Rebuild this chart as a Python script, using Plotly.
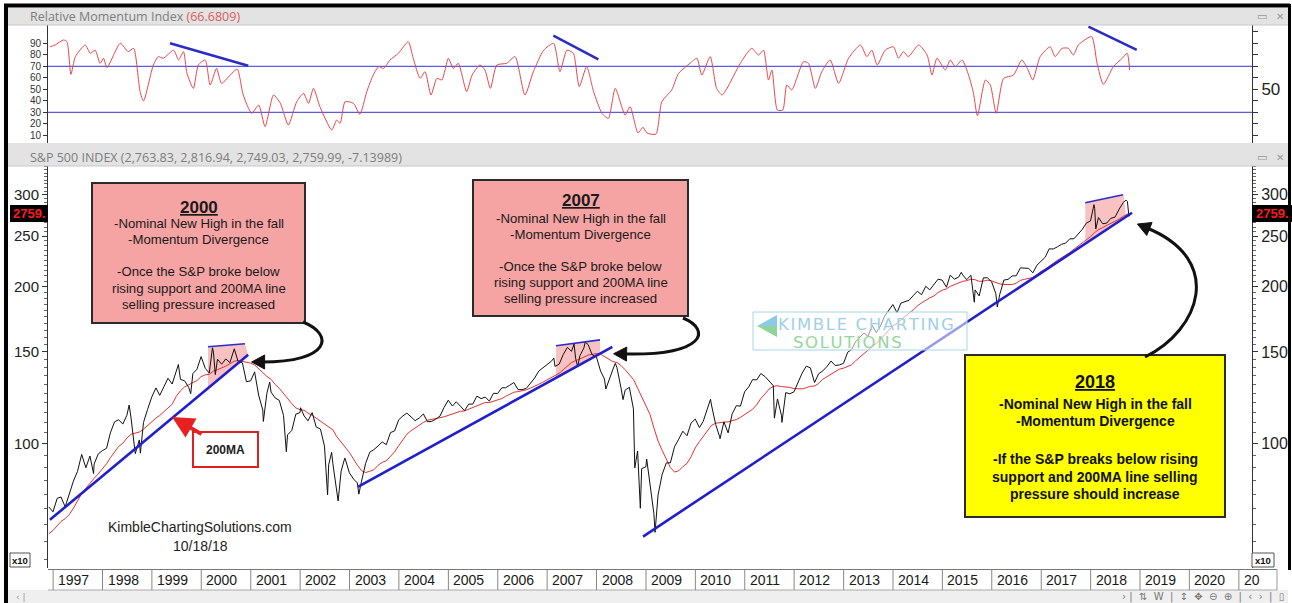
import numpy as np
import pandas as pd
import plotly.graph_objects as go

W, H = 1292, 603
ARIAL = "Liberation Sans, Arial, sans-serif"

# ------------------------------------------------------------------ data
sp500_first_month = "1996-01"
sp500_monthly_close = [
    636.0, 640.4, 645.5, 654.2, 669.1, 670.6, 639.9, 652.0, 687.3, 705.3, 757.0, 740.7,
    786.2, 790.8, 757.1, 801.3, 848.3, 885.1, 954.3, 899.5, 947.3, 914.6, 955.4, 970.4,
    980.3, 1049.3, 1101.8, 1111.8, 1090.8, 1133.8, 1120.7, 957.3, 1017.0, 1098.7, 1163.6, 1229.2,
    1279.6, 1238.3, 1286.4, 1335.2, 1301.8, 1372.7, 1328.7, 1320.4, 1282.7, 1362.9, 1388.9, 1469.3,
    1394.5, 1366.4, 1498.6, 1452.4, 1420.6, 1454.6, 1430.8, 1517.7, 1436.5, 1429.4, 1315.0, 1320.3,
    1366.0, 1239.9, 1160.3, 1249.5, 1255.8, 1224.4, 1211.2, 1133.6, 1040.9, 1059.8, 1139.5, 1148.1,
    1130.2, 1106.7, 1147.4, 1076.9, 1067.1, 989.8, 911.6, 916.1, 815.3, 885.8, 936.3, 879.8,
    855.7, 841.2, 848.2, 916.9, 963.6, 974.5, 990.3, 1008.0, 996.0, 1050.7, 1058.2, 1111.9,
    1131.1, 1144.9, 1126.2, 1107.3, 1120.7, 1140.8, 1101.7, 1104.2, 1114.6, 1130.2, 1173.8, 1211.9,
    1181.3, 1203.6, 1180.6, 1156.9, 1191.5, 1191.3, 1234.2, 1220.3, 1228.8, 1207.0, 1249.5, 1248.3,
    1280.1, 1280.7, 1294.8, 1310.6, 1270.1, 1270.2, 1276.7, 1303.8, 1335.9, 1377.9, 1400.6, 1418.3,
    1438.2, 1406.8, 1420.9, 1482.4, 1530.6, 1503.4, 1455.3, 1474.0, 1526.8, 1549.4, 1481.1, 1468.4,
    1378.6, 1330.6, 1322.7, 1385.6, 1400.4, 1280.0, 1267.4, 1282.8, 1166.4, 968.8, 896.2, 903.3,
    825.9, 735.1, 797.9, 872.8, 919.1, 919.3, 987.5, 1020.6, 1057.1, 1036.2, 1095.6, 1115.1,
    1073.9, 1104.5, 1169.4, 1186.7, 1089.4, 1030.7, 1101.6, 1049.3, 1141.2, 1183.3, 1180.6, 1257.6,
    1286.1, 1327.2, 1325.8, 1363.6, 1345.2, 1320.6, 1292.3, 1218.9, 1131.4, 1253.3, 1247.0, 1257.6,
    1312.4, 1365.7, 1408.5, 1397.9, 1310.3, 1362.2, 1379.3, 1406.6, 1440.7, 1412.2, 1416.2, 1426.2,
    1498.1, 1514.7, 1569.2, 1597.6, 1630.7, 1606.3, 1685.7, 1633.0, 1681.6, 1756.5, 1805.8, 1848.4,
    1782.6, 1859.5, 1872.3, 1884.0, 1923.6, 1960.2, 1930.7, 2003.4, 1972.3, 2018.1, 2067.6, 2058.9,
    1995.0, 2104.5, 2067.9, 2085.5, 2107.4, 2063.1, 2103.8, 1972.2, 1920.0, 2079.4, 2080.4, 2043.9,
    1940.2, 1932.2, 2059.7, 2065.3, 2097.0, 2098.9, 2173.6, 2171.0, 2168.3, 2126.2, 2198.8, 2238.8,
    2278.9, 2363.6, 2362.7, 2384.2, 2411.8, 2423.4, 2470.3, 2471.7, 2519.4, 2575.3, 2647.6, 2673.6,
    2823.8, 2713.8, 2640.9, 2648.1, 2705.3, 2718.4, 2816.3, 2901.5, 2914.0,
]
sp500_last_date = "2018-10-18"
sp500_last_close = 2759.99

sp500_swing_dates = [
    "1997-10-27", "1998-07-17", "1998-10-08", "1999-07-16", "1999-10-15", "2000-03-24",
    "2000-04-14", "2000-09-01", "2001-01-30", "2001-04-04", "2001-05-21", "2001-09-21",
    "2002-01-04", "2002-07-23", "2002-08-22", "2002-10-09", "2002-11-27", "2003-03-11",
    "2007-02-20", "2007-07-19", "2007-08-15", "2007-10-09", "2008-03-10", "2008-05-19",
    "2008-07-15", "2008-10-10", "2008-11-20", "2009-01-06", "2009-03-09", "2010-04-23",
    "2010-07-02", "2011-08-08", "2011-10-03", "2015-05-21", "2015-08-25", "2016-02-11",
    "2018-01-26", "2018-02-08", "2018-09-20", "2018-10-11",
]
sp500_swing_closes = [
    877.0, 1186.8, 959.4, 1418.8, 1247.4, 1527.5,
    1356.6, 1520.8, 1373.7, 1103.3, 1312.8, 965.8,
    1172.5, 797.7, 962.7, 776.8, 938.9, 800.7,
    1459.7, 1553.1, 1406.7, 1565.2, 1273.4, 1426.6,
    1214.9, 899.2, 752.4, 934.7, 676.5, 1217.3,
    1022.6, 1119.5, 1099.2, 2130.8, 1867.6, 1829.1,
    2872.9, 2581.0, 2930.8, 2728.4,
]

ma_window_months = 10  # ~200 trading days

rmi_decimal_year = [
    1996.94, 1997.04, 1997.21, 1997.28, 1997.36, 1997.45, 1997.65, 1997.75, 1997.85, 1997.95,
    1998.02, 1998.09, 1998.36, 1998.52, 1998.63, 1998.76, 1998.83, 1999.03, 1999.13, 1999.23,
    1999.44, 1999.54, 1999.64, 1999.71, 1999.84, 1999.94, 2000.08, 2000.18, 2000.31, 2000.41,
    2000.62, 2000.73, 2000.85, 2001.02, 2001.16, 2001.29, 2001.46, 2001.60, 2001.76, 2001.93,
    2002.07, 2002.17, 2002.27, 2002.40, 2002.64, 2002.74, 2002.81, 2002.91,
    2003.08, 2003.21, 2003.35, 2003.48, 2003.59, 2003.69, 2003.82, 2003.99, 2004.19, 2004.29,
    2004.43, 2004.53, 2004.65, 2004.77, 2004.87, 2005.00, 2005.10, 2005.20, 2005.37, 2005.48,
    2005.64, 2005.74, 2005.85, 2005.98, 2006.18, 2006.35, 2006.55, 2006.72, 2006.93, 2007.13,
    2007.26, 2007.40, 2007.53, 2007.65, 2007.80, 2007.94, 2008.11, 2008.24, 2008.38, 2008.58,
    2008.68, 2008.84, 2008.94, 2009.02, 2009.20, 2009.32,
    2009.52, 2009.66, 2009.89, 2010.03, 2010.13, 2010.30, 2010.43, 2010.54, 2010.64, 2010.91,
    2011.14, 2011.28, 2011.38, 2011.48, 2011.55, 2011.66, 2011.77, 2011.85, 2011.95, 2012.19,
    2012.29, 2012.43, 2012.56, 2012.73, 2012.90, 2013.10, 2013.34, 2013.47, 2013.57, 2013.68,
    2013.84, 2014.01, 2014.11, 2014.21, 2014.31, 2014.52, 2014.69, 2014.79, 2014.89, 2015.06,
    2015.16, 2015.26, 2015.40, 2015.53, 2015.63, 2015.71, 2015.87, 2015.97, 2016.09, 2016.24,
    2016.44, 2016.61, 2016.72, 2016.83, 2016.98, 2017.18, 2017.28, 2017.42, 2017.55, 2017.65,
    2017.75, 2018.02, 2018.13, 2018.26, 2018.46, 2018.64, 2018.74, 2018.79,
]
rmi_value = [
    87.0, 88.5, 92.9, 91.4, 63.0, 78.4, 88.5, 81.3, 84.0, 72.6,
    77.0, 68.8, 90.0, 82.7, 85.6, 48.0, 39.8, 71.1, 78.4, 77.0,
    84.0, 75.5, 82.7, 63.9, 50.8, 71.1, 75.5, 53.7, 68.2, 55.2,
    63.9, 67.6, 45.0, 29.1, 36.3, 17.5, 45.0, 37.8, 19.0, 39.2,
    46.5, 37.8, 50.8, 34.9, 14.6, 23.3, 20.4, 39.2,
    37.8, 28.2, 48.0, 62.4, 69.7, 68.2, 75.5, 81.3, 91.4, 77.0,
    59.5, 65.3, 45.0, 59.5, 58.1, 77.0, 68.2, 72.6, 48.0, 62.4,
    71.1, 66.8, 50.8, 71.1, 72.6, 78.4, 45.0, 65.3, 84.0, 90.0,
    65.3, 84.0, 81.3, 52.3, 69.7, 48.0, 29.1, 24.7, 50.8, 27.6,
    34.9, 12.0, 17.0, 12.0, 11.0, 39.2,
    49.4, 63.9, 72.6, 77.0, 62.4, 78.4, 50.8, 45.0, 50.8, 72.6,
    85.6, 79.8, 84.0, 58.1, 66.8, 32.0, 32.0, 53.7, 49.4, 74.0,
    72.6, 50.8, 65.3, 75.5, 55.2, 77.0, 88.5, 78.4, 84.0, 71.1,
    84.0, 87.0, 77.0, 82.7, 78.4, 88.5, 79.8, 62.4, 77.0, 66.8,
    75.5, 69.7, 75.5, 62.4, 46.5, 27.0, 58.1, 53.7, 29.1, 59.5,
    62.4, 75.5, 68.2, 58.1, 78.4, 87.0, 78.4, 85.6, 85.6, 79.8,
    88.5, 95.8, 72.6, 54.3, 69.7, 77.0, 81.3, 66.7,
]
rmi_last = "66.6809"
rmi_bands = [70, 30]

# hand-drawn trendlines (dates, index/10 values)
support_dates = [["1996-12-08", "2000-12-13"], ["2003-03-04", "2008-04-27"], ["2008-12-10", "2018-11-03"]]
support_vals = [[71.5, 148.1], [82.7, 153.3], [66.4, 277.2]]
top_dates = [["2000-02-20", "2000-11-19"], ["2007-03-08", "2008-01-27"], ["2017-11-22", "2018-08-28"]]
top_vals = [[153.4, 155.5], [154.1, 158.2], [289.6, 300.0]]
wedge_dates = [["2000-02-20", "2000-11-19", "2000-12-13", "2000-02-20"],
               ["2007-03-08", "2008-01-27", "2008-01-27", "2007-03-08"],
               ["2017-11-22", "2018-09-01", "2018-09-20", "2017-11-22"]]
wedge_vals = [[153.4, 155.5, 148.1, 128.5], [154.1, 158.2, 149.0, 133.9], [289.6, 300.5, 272.6, 241.6]]
rmi_div_dates = [["1999-05-15", "2000-12-13"], ["2007-02-16", "2008-01-15"], ["2017-12-16", "2018-12-08"]]
rmi_div_vals = [[90.0, 70.5], [96.6, 76.0], [104.5, 84.2]]

price_ticks = [100, 150, 200, 250, 300]
rmi_ticks = [10, 20, 30, 40, 50, 60, 70, 80, 90]
years = list(range(1997, 2022))

# ------------------------------------------------------------------ series
m_dates = pd.date_range(sp500_first_month, periods=len(sp500_monthly_close), freq="ME")
monthly = pd.Series(sp500_monthly_close, index=m_dates)
ma = monthly.rolling(ma_window_months).mean()
price = pd.concat([monthly, pd.Series(sp500_swing_closes, index=pd.to_datetime(sp500_swing_dates)),
                   pd.Series([sp500_last_close], index=[pd.Timestamp(sp500_last_date)])]).sort_index()
price = price[price.index >= "1996-11-30"]
ma = ma[ma.index >= "1996-11-30"]
ma = pd.concat([ma, pd.Series([ma.iloc[-1]], index=[pd.Timestamp(sp500_last_date)])])


def dec_to_date(d):
    y = int(np.floor(d))
    return pd.Timestamp(f"{y}-01-01") + pd.Timedelta(days=(d - y) * 365.25)


rmi_dates = [dec_to_date(d) for d in rmi_decimal_year]

# ------------------------------------------------------------------ geometry helpers (pixel -> paper)
def X(px):
    return px / W


def Y(py):
    return 1 - py / H


XR = ["1996-11-24", "2021-04-08"]
RMI_R = [3.3, 105.9]
PR_R = [np.log10(57.8), np.log10(340.7)]

fig = go.Figure()

# RMI
fig.add_trace(go.Scatter(x=rmi_dates, y=rmi_value, mode="lines",
                         line=dict(color="#e8474a", width=1, shape="spline", smoothing=0.6),
                         xaxis="x", yaxis="y", hoverinfo="skip"))
for d, v in zip(rmi_div_dates, rmi_div_vals):
    fig.add_trace(go.Scatter(x=d, y=v, mode="lines", line=dict(color="#2b2bc8", width=2.5),
                             xaxis="x", yaxis="y", hoverinfo="skip"))
fig.add_trace(go.Scatter(x=[rmi_dates[0]], y=[50], mode="markers", marker=dict(opacity=0),
                         xaxis="x", yaxis="y4", hoverinfo="skip"))

# price panel
for d, v in zip(wedge_dates, wedge_vals):
    fig.add_trace(go.Scatter(x=d, y=v, mode="lines", fill="toself", fillcolor="rgba(240,120,120,0.45)",
                             line=dict(width=0), xaxis="x2", yaxis="y2", hoverinfo="skip"))
fig.add_trace(go.Scatter(x=ma.index, y=ma.values / 10, mode="lines", line=dict(color="#e83030", width=1),
                         xaxis="x2", yaxis="y2", hoverinfo="skip"))
fig.add_trace(go.Scatter(x=price.index, y=price.values / 10, mode="lines", line=dict(color="#111111", width=1),
                         xaxis="x2", yaxis="y2", hoverinfo="skip"))
for d, v in zip(support_dates, support_vals):
    fig.add_trace(go.Scatter(x=d, y=v, mode="lines", line=dict(color="#1f1fd0", width=2.6),
                             xaxis="x2", yaxis="y2", hoverinfo="skip"))
for d, v in zip(top_dates, top_vals):
    fig.add_trace(go.Scatter(x=d, y=v, mode="lines", line=dict(color="#2b2bd0", width=1.6),
                             xaxis="x2", yaxis="y2", hoverinfo="skip"))
fig.add_trace(go.Scatter(x=[price.index[0]], y=[100], mode="markers", marker=dict(opacity=0),
                         xaxis="x2", yaxis="y3", hoverinfo="skip"))

shapes = []
ann = []


def rect(x0, y0, x1, y1, fill=None, line=None, lw=1, layer="below"):
    shapes.append(dict(type="rect", xref="paper", yref="paper", x0=X(x0), x1=X(x1), y0=Y(y1), y1=Y(y0),
                       fillcolor=fill if fill else "rgba(0,0,0,0)",
                       line=dict(color=line if line else "rgba(0,0,0,0)", width=lw if line else 0), layer=layer))


def hline(x0, x1, y, color, w=1, layer="above"):
    shapes.append(dict(type="line", xref="paper", yref="paper", x0=X(x0), x1=X(x1), y0=Y(y), y1=Y(y),
                       line=dict(color=color, width=w), layer=layer))


def vline(x, y0, y1, color, w=1, layer="above"):
    shapes.append(dict(type="line", xref="paper", yref="paper", x0=X(x), x1=X(x), y0=Y(y0), y1=Y(y1),
                       line=dict(color=color, width=w), layer=layer))


def text(px, py, s, size=13, color="#222", bold=False, family=ARIAL, xanchor="center", **kw):
    if bold:
        s = f"<b>{s}</b>"
    ann.append(dict(x=X(px), y=Y(py), xref="paper", yref="paper", text=s, showarrow=False,
                    xanchor=xanchor, yanchor="middle", font=dict(size=size, color=color, family=family), **kw))


# header bars
rect(8, 8, 1288, 25, fill="#e3e3e3")
rect(8, 143, 1288, 166, fill="#e3e3e3")
rect(8, 590, 1288, 603, fill="#efefef")
hline(8, 1288, 25, "#c8c8c8")
hline(8, 1288, 166, "#c8c8c8")
ann.append(dict(x=X(28), y=Y(16.5), xref="paper", yref="paper", showarrow=False, xanchor="left", yanchor="middle",
                text=f"Relative Momentum Index <span style='color:#e05a5a'>({rmi_last})</span>",
                font=dict(size=12.5, color="#7d7d7d", family="Open Sans, Noto Sans, sans-serif")))
ann.append(dict(x=X(28), y=Y(157), xref="paper", yref="paper", showarrow=False, xanchor="left", yanchor="middle",
                text="S&P 500 INDEX (2,763.83, 2,816.94, 2,749.03, 2,759.99, -7.13989)",
                font=dict(size=12.5, color="#7d7d7d", family="Open Sans, Noto Sans, sans-serif")))
for py in (16.5, 157):
    text(1262, py, "▭", size=11, color="#9a9a9a", family="DejaVu Sans")
    text(1280, py, "✕", size=10, color="#9a9a9a", family="DejaVu Sans")

# bottom toolbar glyphs
text(14, 597, "‹ |", size=9, color="#999", family="DejaVu Sans", xanchor="left")
text(1120, 597, "› |  ⇅  W  |  ↕  ✥  ⊖  ⊕  |  ‹  ›  |  ▯", size=10, color="#777",
     family="DejaVu Sans", xanchor="left")

# frame
vline(6, 4, 603, "#000", w=4)
hline(4, 1290, 5.5, "#000", w=4)
vline(1289.5, 4, 570, "#000", w=3)

# RMI band lines
for b in rmi_bands:
    shapes.append(dict(type="line", xref="paper", yref="y", x0=X(48), x1=X(1252), y0=b, y1=b,
                       line=dict(color="#5b5bdc", width=1.2), layer="below"))

# year band
hline(48, 1277, 569.5, "#777")
hline(48, 1277, 590, "#aaa")
vline(1277, 569.5, 590, "#999")
for yr in years:
    shapes.append(dict(type="line", xref="x2", yref="paper", x0=f"{yr}-01-01", x1=f"{yr}-01-01",
                       y0=Y(590), y1=Y(569.5), line=dict(color="#888", width=1)))
    ann.append(dict(x=f"{yr}-01-01", xref="x2", y=Y(580), yref="paper", showarrow=False, xanchor="left",
                    yanchor="middle", xshift=3, text=str(yr) if yr < 2021 else "20",
                    font=dict(size=14, color="#1a1a1a", family=ARIAL)))

# price tags
for x0, x1 in ((10, 48), (1252, 1292)):
    rect(x0, 205, x1, 222, fill="#000", layer="above")
    text((x0 + x1) / 2, 213.5, "2759.", size=13, color="#ff1a1a", bold=True)

# x10 boxes
for x0, x1 in ((10, 30), (1252, 1274)):
    rect(x0, 553, x1, 567, fill="#fff", line="#555", lw=1, layer="above")
    text((x0 + x1) / 2, 560, "x10", size=9.5, color="#111", bold=True)

# watermark
HS = "\u200a"
rect(753, 312, 967, 350, fill="rgba(255,255,255,0.55)", line="#a9d4ea", lw=1, layer="above")
shapes.append(dict(type="path", xref="paper", yref="paper", layer="above",
                   path=f"M{X(777)},{Y(315)} L{X(757)},{Y(326)} L{X(777)},{Y(326)} Z",
                   fillcolor="#8ccbe6", line=dict(width=0)))
shapes.append(dict(type="path", xref="paper", yref="paper", layer="above",
                   path=f"M{X(757)},{Y(326)} L{X(777)},{Y(337)} L{X(777)},{Y(326)} Z",
                   fillcolor="#8fd49a", line=dict(width=0)))
text(866, 324, HS.join("KIMBLE CHARTING"), size=16.5, color="#9fd0ea", family="DejaVu Sans")
text(847, 342, HS.join("SOLUTIONS"), size=16.5, color="#96d69a", family="DejaVu Sans")

# credit
text(200, 527, "KimbleChartingSolutions.com", size=14, color="#222")
text(200, 546, "10/18/18", size=14, color="#222")

# annotation boxes
rect(92, 183, 305, 323, fill="#f5a3a3", line="#2a2a2a", lw=2, layer="above")
rect(473, 180, 688, 316, fill="#f5a3a3", line="#2a2a2a", lw=2, layer="above")
rect(965, 355, 1225, 517, fill="#ffff00", line="#2a2a2a", lw=2, layer="above")
rect(193, 432, 258, 467, fill="#ffffff", line="#e02020", lw=2, layer="above")

box_lines = ["-Nominal New High in the fall", "-Momentum Divergence", "-Once the S&P broke below",
             "rising support and 200MA line", "selling pressure increased"]
for cx, ys, yr in ((198.5, (207, 224, 240, 272, 288, 304), "2000"), (580.5, (201, 218, 234, 266, 282, 298), "2007")):
    text(cx, ys[0], f"<u>{yr}</u>", size=17, color="#1a1a1a", bold=True)
    for s, py in zip(box_lines, ys[1:]):
        text(cx, py, s, size=13.2, color="#1a1a1a")
text(1095, 382, "<u>2018</u>", size=18, color="#111", bold=True)
for s, py in zip(["-Nominal New High in the fall", "-Momentum Divergence", "-If the S&P breaks below rising",
                  "support and 200MA line selling", "pressure should increase"], (404, 421, 459, 477, 494)):
    text(1095, py, s, size=14, color="#111", bold=True)
text(225.5, 450, "200MA", size=12, color="#222", bold=True)

# red arrow to 200MA
ann.append(dict(x=X(172), y=Y(417), xref="paper", yref="paper", ax=31, ay=18, text="", showarrow=True,
                arrowhead=2, arrowsize=1.1, arrowwidth=4, arrowcolor="#e82020"))


# curved black arrows
def curve(p0, c1, c2, p1, tip_len=13, tip_w=7):
    shapes.append(dict(type="path", xref="paper", yref="paper", layer="above",
                       path=f"M{X(p0[0])},{Y(p0[1])} C{X(c1[0])},{Y(c1[1])} {X(c2[0])},{Y(c2[1])} {X(p1[0])},{Y(p1[1])}",
                       line=dict(color="#111", width=3)))
    d = np.array(p1, float) - np.array(c2, float)
    d /= np.linalg.norm(d)
    n = np.array([-d[1], d[0]])
    tip = np.array(p1, float) + d * tip_len * 0.8
    base = tip - d * tip_len
    a = base + n * tip_w
    b = base - n * tip_w
    shapes.append(dict(type="path", xref="paper", yref="paper", layer="above",
                       path=f"M{X(tip[0])},{Y(tip[1])} L{X(a[0])},{Y(a[1])} L{X(b[0])},{Y(b[1])} Z",
                       fillcolor="#111", line=dict(color="#111", width=1)))


curve((303, 322), (335, 335), (330, 362), (262, 362))
curve((683, 318), (712, 330), (705, 356), (624, 354))
curve((1145, 357), (1200, 330), (1225, 260), (1147, 228))

fig.update_layout(
    width=W, height=H, margin=dict(l=0, r=0, t=0, b=0),
    paper_bgcolor="#ffffff", plot_bgcolor="#ffffff", showlegend=False,
    shapes=shapes, annotations=ann,
    xaxis=dict(domain=[X(48), X(1252)], range=XR, type="date", anchor="y", showticklabels=False,
               ticks="", showgrid=False, zeroline=False, showline=False),
    yaxis=dict(domain=[Y(143), Y(25)], range=RMI_R, anchor="x", tickvals=rmi_ticks, ticks="outside",
               ticklen=4, tickcolor="#333", showgrid=False, zeroline=False, showline=True, linecolor="#333",
               tickfont=dict(size=10, color="#333", family=ARIAL)),
    yaxis4=dict(overlaying="y", side="right", anchor="x", range=RMI_R,
                tickvals=[10, 20, 30, 40, 50, 60, 70, 80, 90, 100],
                ticktext=["", "", "", "", "50", "", "", "", "", ""], ticks="outside", ticklen=5, tickcolor="#333",
                showgrid=False, zeroline=False, showline=True, linecolor="#333",
                tickfont=dict(size=17, color="#222", family=ARIAL)),
    xaxis2=dict(domain=[X(48), X(1252)], range=XR, type="date", anchor="y2", showticklabels=False,
                ticks="", showgrid=False, zeroline=False, showline=False),
    yaxis2=dict(domain=[Y(568), Y(166)], range=PR_R, type="log", anchor="x2", tickvals=price_ticks,
                ticks="outside", ticklen=5, tickcolor="#333", showgrid=False, zeroline=False, showline=True,
                linecolor="#333", tickfont=dict(size=15, color="#222", family=ARIAL),
                minor=dict(tickvals=list(range(60, 345, 5)), ticks="outside", ticklen=3, tickcolor="#666")),
    yaxis3=dict(overlaying="y2", side="right", anchor="x2", range=PR_R, type="log", tickvals=price_ticks,
                ticks="outside", ticklen=5, tickcolor="#333", showgrid=False, zeroline=False, showline=True,
                linecolor="#333", tickfont=dict(size=16, color="#222", family=ARIAL),
                minor=dict(tickvals=list(range(60, 345, 5)), ticks="outside", ticklen=3, tickcolor="#666")),
)

fig.write_html("out.html", config={"displayModeBar": False},
               post_script="document.body.style.margin='0';document.body.style.overflow='hidden';")
